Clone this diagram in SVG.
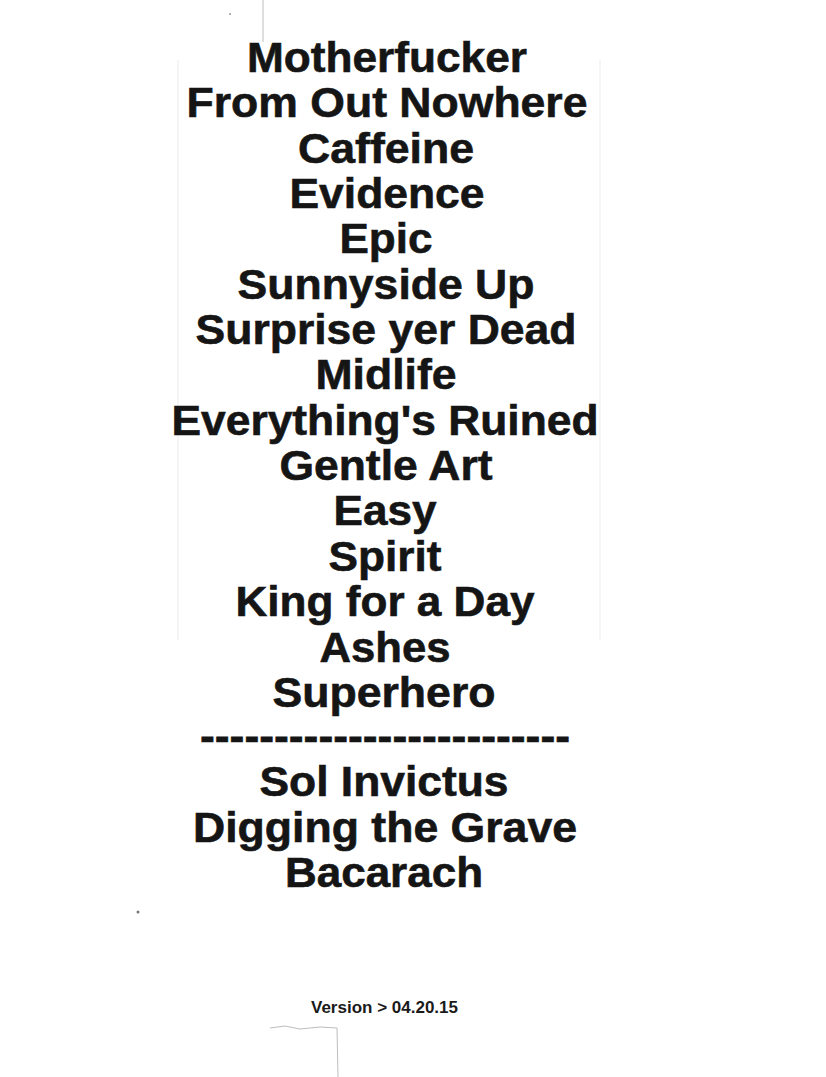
<svg xmlns="http://www.w3.org/2000/svg" width="826" height="1077" viewBox="0 0 826 1077">
<style>
.s{font-family:"Liberation Sans",Arial,sans-serif;font-weight:bold;font-size:42px;fill:#151515;stroke:#151515;stroke-width:0.6;text-anchor:middle}
.v{font-family:"Liberation Sans",Arial,sans-serif;font-weight:bold;font-size:16px;fill:#1a1a1a;text-anchor:middle}
.edge{fill:none;stroke:#bdbdbd;stroke-width:1}
</style>
<rect width="826" height="1077" fill="#ffffff"/>
<g id="paper">
<path class="edge" d="M263 0 L263 42"/>
<path class="edge" d="M178 60 L178 640" stroke-opacity="0.3"/>
<path class="edge" d="M600 60 L600 640" stroke-opacity="0.3"/>
<path class="edge" d="M270 1028 L285 1026 L300 1029 L320 1027 L337 1028 L338 1077" stroke="#9a9a9a"/>
<circle cx="138" cy="912" r="1.5" fill="#777"/>
<circle cx="230" cy="14" r="1" fill="#999"/>
</g>
<g id="setlist">
<text class="s" x="387" y="72" textLength="280" lengthAdjust="spacingAndGlyphs">Motherfucker</text>
<text class="s" x="387" y="117" textLength="401" lengthAdjust="spacingAndGlyphs">From Out Nowhere</text>
<text class="s" x="386" y="163" textLength="176" lengthAdjust="spacingAndGlyphs">Caffeine</text>
<text class="s" x="387" y="208" textLength="195" lengthAdjust="spacingAndGlyphs">Evidence</text>
<text class="s" x="386" y="253" textLength="93" lengthAdjust="spacingAndGlyphs">Epic</text>
<text class="s" x="386" y="299" textLength="297" lengthAdjust="spacingAndGlyphs">Sunnyside Up</text>
<text class="s" x="386" y="344" textLength="381" lengthAdjust="spacingAndGlyphs">Surprise yer Dead</text>
<text class="s" x="386" y="389" textLength="141" lengthAdjust="spacingAndGlyphs">Midlife</text>
<text class="s" x="385" y="435" textLength="427" lengthAdjust="spacingAndGlyphs">Everything's Ruined</text>
<text class="s" x="386" y="480" textLength="213" lengthAdjust="spacingAndGlyphs">Gentle Art</text>
<text class="s" x="385" y="525" textLength="103" lengthAdjust="spacingAndGlyphs">Easy</text>
<text class="s" x="385" y="571" textLength="113" lengthAdjust="spacingAndGlyphs">Spirit</text>
<text class="s" x="385" y="616" textLength="299" lengthAdjust="spacingAndGlyphs">King for a Day</text>
<text class="s" x="385" y="662" textLength="131" lengthAdjust="spacingAndGlyphs">Ashes</text>
<text class="s" x="384" y="707" textLength="223" lengthAdjust="spacingAndGlyphs">Superhero</text>
<text class="s" x="385" y="751" textLength="370" lengthAdjust="spacingAndGlyphs">-------------------------</text>
<text class="s" x="384" y="796" textLength="249" lengthAdjust="spacingAndGlyphs">Sol Invictus</text>
<text class="s" x="385" y="842" textLength="384" lengthAdjust="spacingAndGlyphs">Digging the Grave</text>
<text class="s" x="384" y="887" textLength="198" lengthAdjust="spacingAndGlyphs">Bacarach</text>
</g>
<g id="version">
<text class="v" x="384.5" y="1013" textLength="147" lengthAdjust="spacingAndGlyphs">Version &gt; 04.20.15</text>
</g>
</svg>
